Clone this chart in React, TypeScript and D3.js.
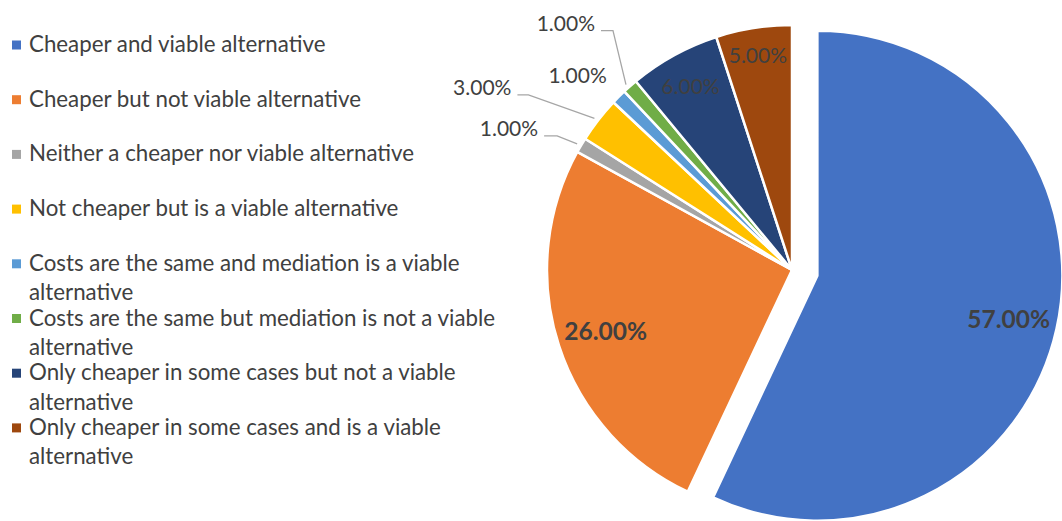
import React from 'react';
import * as d3 from 'd3';

const categories = [
  'Cheaper and viable alternative',
  'Cheaper but not viable alternative',
  'Neither a cheaper nor viable alternative',
  'Not cheaper but is a viable alternative',
  'Costs are the same and mediation is a viable alternative',
  'Costs are the same but mediation is not a viable alternative',
  'Only cheaper in some cases but not a viable alternative',
  'Only cheaper in some cases and is a viable alternative',
];
const values = [57, 26, 1, 3, 1, 1, 6, 5];
const colors = ['#4472C4', '#ED7D31', '#A5A5A5', '#FFC000', '#5B9BD5', '#70AD47', '#264478', '#9E480E'];
const valueLabels = values.map((v) => v.toFixed(2) + '%');

// layout config (not data)
const W = 1062;
const H = 521;
const CX = 792;
const CY = 270;
const R = 245;
const EXPLODE = 26;
const FONT = 'Lato, "Open Sans", sans-serif';

type LabelCfg =
  | { kind: 'in'; rf: number; bold: boolean }
  | { kind: 'out'; ex: number; ey: number; seg: number; line: boolean };
const labelCfg: LabelCfg[] = [
  { kind: 'in', rf: 0.8, bold: true },
  { kind: 'in', rf: 0.8, bold: true },
  { kind: 'out', ex: -24, ey: -9.5, seg: 13, line: true },
  { kind: 'out', ex: -70, ey: -25, seg: 11, line: true },
  { kind: 'out', ex: -6, ey: -14, seg: 0, line: false },
  { kind: 'out', ex: -17, ey: -55.5, seg: 12, line: true },
  { kind: 'in', rf: 0.86, bold: false },
  { kind: 'in', rf: 0.89, bold: false },
];

function wrap(s: string): string[] {
  if (s.length <= 45) return [s];
  const i = s.lastIndexOf(' ');
  return [s.slice(0, i), s.slice(i + 1)];
}

export default function App() {
  const pie = d3
    .pie<number>()
    .sort(null)
    .value((d) => d)
    .startAngle(0)
    .endAngle(2 * Math.PI);
  const arcs = pie(values);
  const arcGen = d3.arc<d3.PieArcDatum<number>>().innerRadius(0).outerRadius(R);

  const legendY = d3.scaleLinear().domain([0, 1]).range([52, 52 + 54.7]);

  return (
    <svg
      width={W}
      height={H}
      style={{ position: 'absolute', left: 0, top: 0, background: '#fff' }}
      fontFamily={FONT}
    >
      <rect width={W} height={H} fill="#fff" />
      <g>
        {categories.map((c, i) => {
          const y = legendY(i);
          const lines = wrap(c);
          return (
            <g key={c}>
              <rect x={12} y={y - 11.5} width={9} height={9} fill={colors[i]} />
              {lines.map((ln, j) => (
                <text key={j} x={29} y={y + j * 29.5} fontSize={22.3} fill="#404040">
                  {ln}
                </text>
              ))}
            </g>
          );
        })}
      </g>
      <g transform={`translate(${CX},${CY})`}>
        {arcs.map((a, i) => {
          const mid = (a.startAngle + a.endAngle) / 2;
          const off = i === 0 ? EXPLODE : 0;
          const tx = Math.sin(mid) * off;
          const ty = -Math.cos(mid) * off;
          return (
            <path
              key={i}
              d={arcGen(a) || ''}
              transform={`translate(${tx},${ty})`}
              fill={colors[i]}
              stroke="#fff"
              strokeWidth={2.5}
              strokeLinejoin="round"
            />
          );
        })}
        {arcs.map((a, i) => {
          const mid = (a.startAngle + a.endAngle) / 2;
          const off = i === 0 ? EXPLODE : 0;
          const sx = Math.sin(mid);
          const sy = -Math.cos(mid);
          const cfg = labelCfg[i];
          if (cfg.kind === 'in') {
            const r = R * cfg.rf + off;
            return (
              <text
                key={'l' + i}
                x={sx * r}
                y={sy * r}
                textAnchor="middle"
                dominantBaseline="central"
                fontSize={cfg.bold ? 24.5 : 21}
                fontWeight={cfg.bold ? 700 : 400}
                fill="#404040"
              >
                {valueLabels[i]}
              </text>
            );
          }
          const px = sx * R;
          const py = sy * R;
          const ex = px + cfg.ex;
          const ey = py + cfg.ey;
          const hx = ex - cfg.seg;
          return (
            <g key={'l' + i}>
              {cfg.line && (
                <polyline
                  points={`${px - 4},${py - 1.5} ${ex},${ey} ${hx},${ey}`}
                  fill="none"
                  stroke="#A6A6A6"
                  strokeWidth={1.3}
                />
              )}
              <text x={hx - 6} y={ey} textAnchor="end" fontSize={21} fill="#404040">
                {valueLabels[i]}
              </text>
            </g>
          );
        })}
      </g>
    </svg>
  );
}
